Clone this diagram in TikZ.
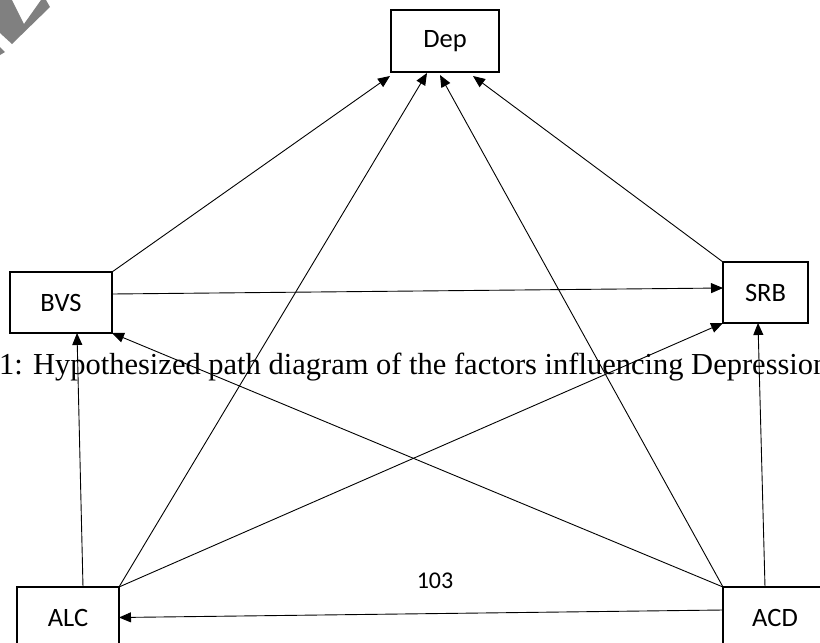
\documentclass[tikz,border=0pt]{standalone}
\usepackage{fontspec}
\setmainfont{Liberation Serif}
\newfontfamily\boxfont{Carlito}
\usetikzlibrary{arrows.meta,calc}
\definecolor{wm}{RGB}{128,128,128}
\begin{document}
\begin{tikzpicture}[x=1pt,y=-1pt,
  box/.style={draw, line width=1.4pt, outer sep=0pt, inner sep=0pt,
    font=\boxfont\fontsize{26.5}{30}\selectfont},
  link/.style={line width=0.9pt, -{Triangle[length=12pt,width=10pt]}},
  captxt/.style={font=\fontsize{30.5}{34}\selectfont, inner sep=0pt, anchor=base west},
  pagetxt/.style={font=\boxfont\fontsize{24}{28}\selectfont, inner sep=0pt}]
\useasboundingbox (0,0) rectangle (820,643);
\clip (0,0) rectangle (820,643);
% watermark fragment
\fill[wm] (0,0) -- (12,0) -- (24,24) -- (41,0) -- (46,0) -- (50,7) -- (12,44) -- (0,33) -- cycle;
\fill[wm] (0,47) -- (5,52) -- (0,55) -- cycle;
% nodes
\node[box, minimum width=108pt, minimum height=62pt] (dep) at (445,41) {Dep};
\node[box, minimum width=102pt, minimum height=61pt] (bvs) at (61,302.5) {BVS};
\node[box, minimum width=85pt, minimum height=61pt] (srb) at (765.5,292.5) {SRB};
\node[box, minimum width=102pt, minimum height=61pt] (alc) at (68,617.5) {ALC};
\node[box, minimum width=104pt, minimum height=61pt] (acd) at (775,617.5) {ACD};
% texts
\node[captxt] (cap) at (-1,374) {1: Hypothesized path diagram of the factors influencing Depression};
\node[pagetxt] (pg) at (435,581) {103};
% connectors
\draw[link] (bvs.north east) -- ($(dep.south west)+(-1,4)$);
\draw[link] (alc.north east) -- ($(dep.south)+(-18,1)$);
\draw[link] (acd.north west) -- ($(dep.south)+(-5,3)$);
\draw[link] (srb.north west) -- ($(dep.south east)+(-26,4)$);
\draw[link] ($(bvs.east)+(0,-8.5)$) -- ($(srb.west)+(0,-4.5)$);
\draw[link] (acd.north west) -- (bvs.south east);
\draw[link] (alc.north east) -- (srb.south west);
\draw[link] ($(alc.north)+(15,0)$) -- ($(bvs.south)+(16,0)$);
\draw[link] ($(acd.north)+(-10,0)$) -- ($(srb.south)+(-7.5,0)$);
\draw[link] ($(acd.west)+(0,-7.5)$) -- (alc.east);
\end{tikzpicture}
\end{document}
